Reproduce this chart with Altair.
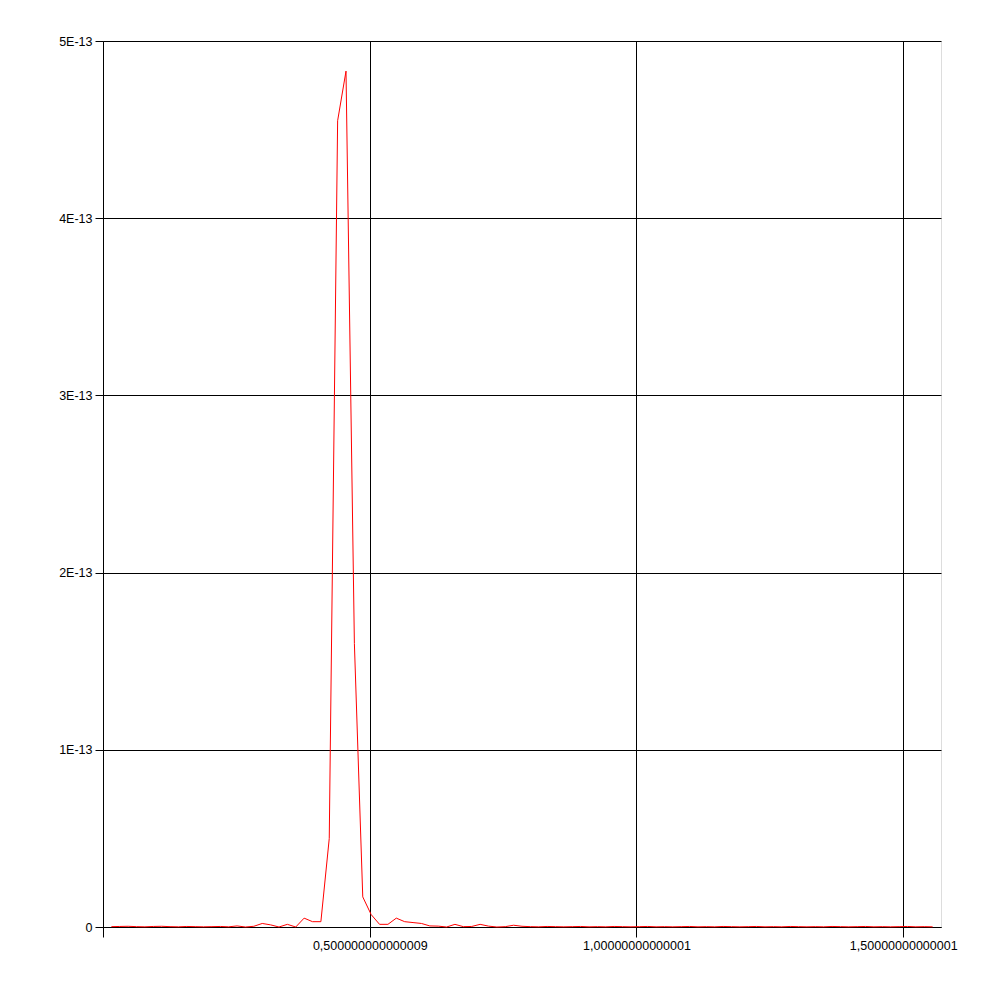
import altair as alt
import pandas as pd

# x positions of the samples
x_vals = [0.0157, 0.0314, 0.0471, 0.0628, 0.0785, 0.0942, 0.1100, 0.1257, 0.1414, 0.1571,
          0.1728, 0.1885, 0.2042, 0.2199, 0.2356, 0.2513, 0.2670, 0.2827, 0.2985, 0.3142,
          0.3299, 0.3456, 0.3613, 0.3770, 0.3927, 0.4084, 0.4241, 0.4398, 0.4555, 0.4712,
          0.4869, 0.5027, 0.5184, 0.5341, 0.5498, 0.5655, 0.5812, 0.5969, 0.6126, 0.6283,
          0.6440, 0.6597, 0.6754, 0.6912, 0.7069, 0.7226, 0.7383, 0.7540, 0.7697, 0.7854,
          0.8011, 0.8168, 0.8325, 0.8482, 0.8639, 0.8796, 0.8954, 0.9111, 0.9268, 0.9425,
          0.9582, 0.9739, 0.9896, 1.0053, 1.0210, 1.0367, 1.0524, 1.0681, 1.0838, 1.0996,
          1.1153, 1.1310, 1.1467, 1.1624, 1.1781, 1.1938, 1.2095, 1.2252, 1.2409, 1.2566,
          1.2723, 1.2881, 1.3038, 1.3195, 1.3352, 1.3509, 1.3666, 1.3823, 1.3980, 1.4137,
          1.4294, 1.4451, 1.4608, 1.4765, 1.4923, 1.5080, 1.5237, 1.5394, 1.5551]

# y values in units of 1e-13
y_vals_e13 = [0.002, 0.003, 0.004, 0.002, 0.001, 0.003, 0.004, 0.002, 0.001, 0.003,
              0.002, 0.001, 0.002, 0.003, 0.001, 0.006, 0.000, 0.004, 0.020, 0.012,
              0.000, 0.015, 0.000, 0.050, 0.030, 0.030, 0.500, 4.550, 4.830, 1.600,
              0.170, 0.070, 0.015, 0.015, 0.050, 0.030, 0.025, 0.020, 0.006, 0.005,
              0.000, 0.015, 0.002, 0.003, 0.015, 0.005, 0.000, 0.002, 0.010, 0.004,
              0.002, 0.001, 0.003, 0.002, 0.001, 0.002, 0.003, 0.001, 0.002, 0.001,
              0.003, 0.002, 0.001, 0.002, 0.003, 0.001, 0.002, 0.001, 0.002, 0.003,
              0.001, 0.002, 0.001, 0.003, 0.002, 0.001, 0.002, 0.003, 0.001, 0.002,
              0.001, 0.003, 0.002, 0.001, 0.002, 0.001, 0.003, 0.002, 0.001, 0.002,
              0.003, 0.001, 0.002, 0.001, 0.002, 0.003, 0.001, 0.002, 0.001]

x_tick_values = [0.0, 0.5, 1.0, 1.5]
x_tick_labels = ["", "0,500000000000009", "1,00000000000001", "1,50000000000001"]
y_tick_values = [0.0, 1e-13, 2e-13, 3e-13, 4e-13, 5e-13]
y_tick_labels = ["0", "1E-13", "2E-13", "3E-13", "4E-13", "5E-13"]

df = pd.DataFrame({"x": x_vals, "y": [v * 1e-13 for v in y_vals_e13]})


def label_expr(values, labels):
    expr = "''"
    for v, l in reversed(list(zip(values, labels))):
        expr = f"abs(datum.value - {v!r}) < {abs(max(values)) * 1e-6!r} ? '{l}' : " + expr
    return expr


x_expr = label_expr(x_tick_values, x_tick_labels)
y_expr = label_expr(y_tick_values, y_tick_labels)

chart = alt.Chart(df).mark_line(color="#ff0000", strokeWidth=1).encode(
    x=alt.X("x:Q",
            scale=alt.Scale(domain=[0, 1.5708], nice=False, zero=False),
            axis=alt.Axis(values=x_tick_values, labelExpr=x_expr, title=None,
                          grid=True, gridColor="black", gridOpacity=1, gridWidth=1,
                          domainColor="black", domainWidth=1,
                          tickColor="black", tickSize=10, tickWidth=1,
                          labelFont="Liberation Sans", labelFontSize=12.5,
                          labelColor="black", labelPadding=2,
                          labelOverlap=False, labelFlush=False)),
    y=alt.Y("y:Q",
            scale=alt.Scale(domain=[0, 5e-13], nice=False),
            axis=alt.Axis(values=y_tick_values, labelExpr=y_expr, title=None,
                          grid=True, gridColor="black", gridOpacity=1, gridWidth=1,
                          domainColor="black", domainWidth=1,
                          tickColor="black", tickSize=8, tickWidth=1,
                          labelFont="Liberation Sans", labelFontSize=12.5,
                          labelColor="black", labelPadding=3,
                          labelOverlap=False, labelFlush=False)),
).properties(
    width=838,
    height=886,
    autosize=alt.AutoSizeParams(type="none"),
    padding={"left": 95, "top": 33, "right": 40, "bottom": 60},
).configure_view(stroke="transparent", strokeWidth=0).configure(background="white")

chart.save("out.html", embed_options={"renderer": "svg", "actions": False})
